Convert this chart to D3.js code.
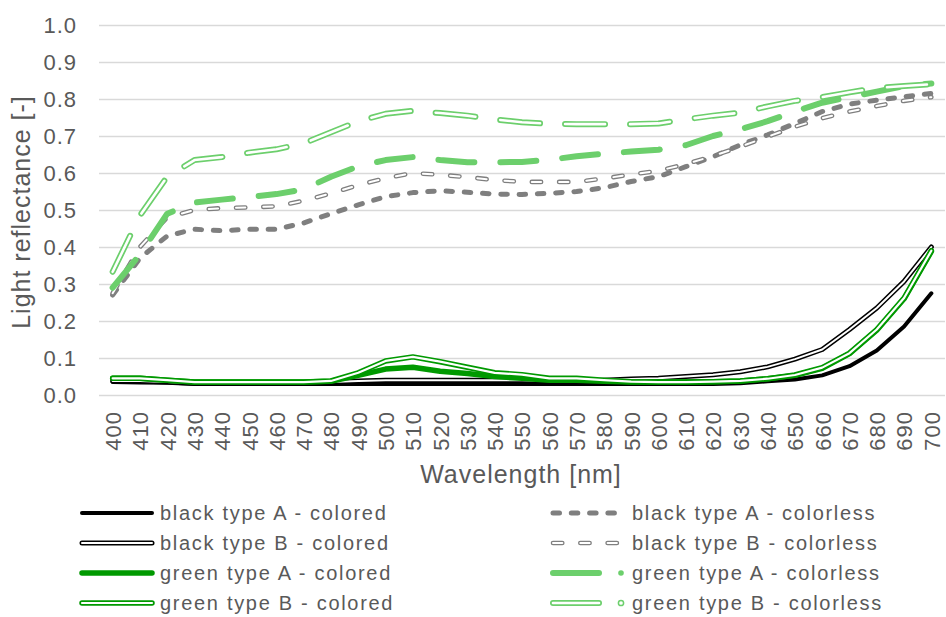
<!DOCTYPE html>
<html>
<head>
<meta charset="utf-8">
<script src="https://cdn.jsdelivr.net/npm/d3@7"></script>
<style>
  body { margin: 0; background: #fff; }
  text { font-family: "Liberation Sans", Arial, sans-serif; fill: #595959; }
</style>
</head>
<body>
<div id="chart"></div>
<script>
// wavelengths (categories)
const wavelengths = [400, 410, 420, 430, 440, 450, 460, 470, 480, 490, 500, 510, 520, 530, 540, 550,
  560, 570, 580, 590, 600, 610, 620, 630, 640, 650, 660, 670, 680, 690, 700];
const yTicks = [0, 0.1, 0.2, 0.3, 0.4, 0.5, 0.6, 0.7, 0.8, 0.9, 1.0];

const blackAColored = [.035, .034, .033, .030, .030, .030, .030, .030, .030, .030, .030, .030, .030, .030, .030, .030,
  .030, .030, .030, .030, .030, .030, .030, .032, .037, .042, .053, .078, .120, .185, .275];
const blackBColored = [.038, .038, .035, .032, .032, .032, .032, .033, .035, .038, .040, .040, .040, .040, .040, .040,
  .038, .038, .040, .043, .045, .050, .055, .063, .076, .097, .123, .177, .235, .307, .400];
const greenAColored = [.045, .045, .040, .035, .035, .035, .035, .035, .037, .053, .070, .075, .064, .058, .050, .045,
  .040, .040, .037, .035, .035, .035, .036, .038, .044, .053, .072, .112, .175, .260, .388];
const greenBColored = [.045, .045, .040, .035, .035, .035, .035, .035, .038, .060, .092, .103, .090, .075, .060, .055,
  .045, .045, .040, .036, .035, .035, .036, .038, .044, .054, .074, .113, .177, .262, .390];
const blackAColorless = [.270, .370, .430, .448, .444, .448, .448, .465, .490, .514, .536, .547, .552, .548, .543, .542,
  .545, .550, .560, .577, .590, .617, .644, .676, .703, .734, .766, .786, .797, .806, .815];
const blackBColorless = [.275, .400, .480, .500, .505, .507, .510, .525, .545, .567, .586, .600, .595, .589, .581, .576,
  .576, .576, .585, .596, .606, .624, .646, .671, .698, .725, .748, .766, .781, .795, .805];
const greenAColorless = [.290, .380, .490, .520, .528, .535, .543, .556, .590, .618, .635, .643, .635, .629, .629, .630,
  .636, .645, .652, .658, .663, .675, .700, .718, .740, .766, .790, .805, .820, .835, .842];
const greenBColorless = [.333, .485, .590, .635, .643, .655, .664, .680, .710, .740, .760, .768, .762, .755, .745, .737,
  .733, .732, .732, .732, .734, .745, .755, .763, .780, .795, .805, .818, .830, .835, .840];

const GRAY = "#7f7f7f", GREEN = "#009900", LGREEN = "#6ccf6c";

// style per series; inner = white core width for the double lines
const series = [
  { name: "black type A - colored", values: blackAColored, color: "#000", width: 4 },
  { name: "black type B - colored", values: blackBColored, color: "#000", width: 5, inner: 2 },
  { name: "green type A - colored", values: greenAColored, color: GREEN, width: 5.5 },
  { name: "green type B - colored", values: greenBColored, color: GREEN, width: 5.5, inner: 2.2 },
  { name: "black type A - colorless", values: blackAColorless, color: GRAY, width: 5, dash: "6.5,11.8" },
  { name: "black type B - colorless", values: blackBColorless, color: GRAY, width: 4.6, inner: 2, dash: "9.3,18" },
  { name: "green type A - colorless", values: greenAColorless, color: LGREEN, width: 6, dash: "36,26", dot: true },
  { name: "green type B - colorless", values: greenBColorless, color: LGREEN, width: 6, inner: 2.6, dash: "40,25", dot: true }
];

const W = 946, H = 617;
const mLeft = 99, mRight = 945, mTop = 25, mBottom = 395;

const svg = d3.select("#chart").append("svg")
  .attr("width", W).attr("height", H)
  .style("background", "#fff");

const x = d3.scalePoint().domain(wavelengths).range([mLeft, mRight]).padding(0.5);
const y = d3.scaleLinear().domain([0, 1]).range([mBottom, mTop]);

// gridlines + y labels
const yAxis = svg.append("g")
  .attr("transform", "translate(" + mLeft + ",0)")
  .call(d3.axisLeft(y).tickValues(yTicks).tickSize(-(mRight - mLeft)).tickPadding(22).tickFormat(d3.format(".1f")));
yAxis.select(".domain").remove();
yAxis.selectAll("line").attr("stroke", "#d9d9d9").attr("stroke-width", 1.6);
yAxis.selectAll("text")
  .style("font-size", "22px").style("letter-spacing", "1px")
  .style("font-family", "Liberation Sans, Arial, sans-serif").attr("fill", "#595959");

// x labels, rotated
const xAxis = svg.append("g")
  .attr("transform", "translate(0," + mBottom + ")")
  .call(d3.axisBottom(x).tickSize(0));
xAxis.select(".domain").remove();
xAxis.selectAll("text")
  .attr("transform", "rotate(-90)")
  .attr("x", -16).attr("y", 0).attr("dy", "0.36em")
  .style("text-anchor", "end")
  .style("font-size", "22px").style("letter-spacing", "1px")
  .style("font-family", "Liberation Sans, Arial, sans-serif").attr("fill", "#595959");

// axis titles
svg.append("text")
  .attr("x", 521).attr("y", 483)
  .attr("text-anchor", "middle")
  .style("font-size", "25px").style("letter-spacing", "1px")
  .text("Wavelength [nm]");
svg.append("text")
  .attr("transform", "translate(30,212) rotate(-90)")
  .attr("text-anchor", "middle")
  .style("font-size", "25px").style("letter-spacing", "1px")
  .text("Light reflectance [-]");

const line = d3.line()
  .x((d, i) => x(wavelengths[i]))
  .y(d => y(d));

function stroke(sel, s) {
  sel.attr("fill", "none")
    .attr("stroke-linecap", "round")
    .attr("stroke-linejoin", "round")
    .attr("stroke-dasharray", s.dash || null);
}

const plot = svg.append("g");
series.forEach(s => {
  plot.append("path").datum(s.values).attr("d", line)
    .call(stroke, s).attr("stroke", s.color).attr("stroke-width", s.width);
  if (s.inner) {
    plot.append("path").datum(s.values).attr("d", line)
      .call(stroke, s).attr("stroke", "#fff").attr("stroke-width", s.inner);
  }
});

// legend
const legendRows = [513, 543, 573, 603];
series.forEach((s, i) => {
  const col = i < 4 ? 0 : 1;
  const row = i % 4;
  const cy = legendRows[row];
  const x0 = col === 0 ? 82 : 553;
  const x1 = col === 0 ? 152 : 621;
  const tx = col === 0 ? 160 : 632;
  const g = svg.append("g");
  const segEnd = s.dot ? 599 : x1;
  g.append("line").attr("x1", x0).attr("x2", segEnd).attr("y1", cy).attr("y2", cy)
    .attr("stroke", s.color).attr("stroke-width", s.width).attr("stroke-linecap", "round")
    .attr("stroke-dasharray", s.dot ? null : (s.dash || null));
  if (s.inner) {
    g.append("line").attr("x1", x0).attr("x2", segEnd).attr("y1", cy).attr("y2", cy)
      .attr("stroke", "#fff").attr("stroke-width", s.inner).attr("stroke-linecap", "round")
      .attr("stroke-dasharray", s.dot ? null : (s.dash || null));
  }
  if (s.dot) {
    g.append("circle").attr("cx", x1).attr("cy", cy).attr("r", s.inner ? 2.6 : 2.8)
      .attr("fill", s.inner ? "#fff" : s.color)
      .attr("stroke", s.color).attr("stroke-width", s.inner ? 1.5 : 0);
  }
  g.append("text").attr("x", tx).attr("y", cy).attr("dy", "0.36em")
    .style("font-size", "20px").style("letter-spacing", "1.7px")
    .text(s.name);
});
</script>
</body>
</html>
